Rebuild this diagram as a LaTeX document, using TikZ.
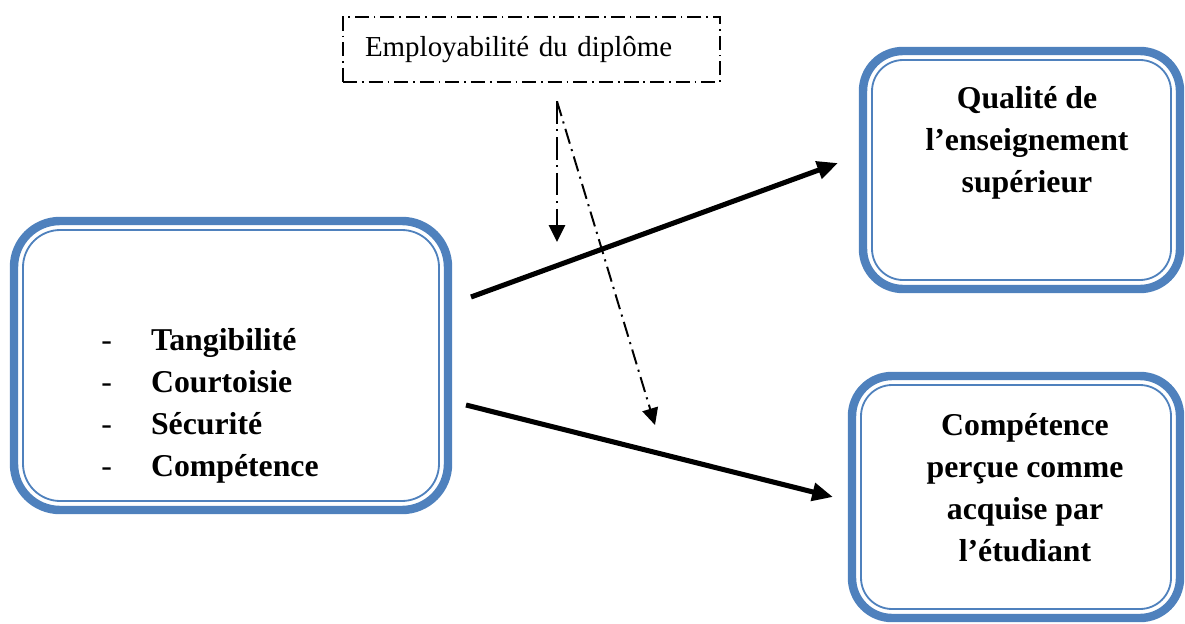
\documentclass[tikz,border=0pt]{standalone}
\usepackage{fontspec}
\setmainfont{Liberation Serif}
\usetikzlibrary{arrows.meta, positioning, calc}
\definecolor{wdblue}{HTML}{4F81BD}

\begin{document}
\begin{tikzpicture}[
  >={Triangle[length=5.2mm, width=4.4mm]},
  bluebox/.style={draw=wdblue, line width=6pt, inner sep=0pt, outer sep=0pt},
  innerline/.style={draw=wdblue, line width=1.3pt},
  boxtext/.style={font=\fontsize{22.6}{29.9}\selectfont\bfseries, align=center, inner sep=0pt},
  modbox/.style={draw, line width=1.1pt, dash pattern=on 10pt off 3.5pt on 1.2pt off 3.5pt,
    minimum height=1.625cm, inner xsep=0.55cm, text width=8.325cm, align=left,
    font=\fontsize{20.6}{24}\selectfont},
  effect/.style={->, line width=3.6pt},
  modarrow/.style={-{Triangle[length=4.2mm, width=4mm]}, line width=1.8pt},
]

\useasboundingbox (0,0) rectangle (29.625,15.575);

% Dimensions of service quality (left)
\node[bluebox, rounded corners=1.15cm, minimum width=10.85cm, minimum height=7.225cm]
  (lbox) at (5.775,6.4375) {};
\draw[innerline, rounded corners=0.93cm]
  ([shift={(0.225,0.225)}]lbox.south west) rectangle ([shift={(-0.225,-0.225)}]lbox.north east);

\node[font=\fontsize{22.6}{29.9}\selectfont\bfseries, inner sep=0pt, anchor=north west]
  (dims) at (2.525,7.56) {%
  \begin{tabular}{@{}l@{\hspace{0.98cm}}l@{}}
    {\mdseries -} & Tangibilité\\
    {\mdseries -} & Courtoisie\\
    {\mdseries -} & Sécurité\\
    {\mdseries -} & Compétence
  \end{tabular}};

% Outcomes (right)
\node[bluebox, rounded corners=1cm, minimum width=7.925cm, minimum height=5.95cm]
  (qbox) at (25.5375,11.325) {};
\draw[innerline, rounded corners=0.78cm]
  ([shift={(0.225,0.225)}]qbox.south west) rectangle ([shift={(-0.225,-0.225)}]qbox.north east);
\node[boxtext] (qtext) at (25.675,12.0) {Qualité de\\l’enseignement\\supérieur};

\node[bluebox, rounded corners=1cm, minimum width=8.2cm, minimum height=6.05cm]
  (cbox) at (25.4,3.15) {};
\draw[innerline, rounded corners=0.78cm]
  ([shift={(0.225,0.225)}]cbox.south west) rectangle ([shift={(-0.225,-0.225)}]cbox.north east);
\node[boxtext] (ctext) at (25.625,3.375) {Compétence\\perçue comme\\acquise par\\l’étudiant};

% Moderator
\node[modbox] (emp) at (13.2875,14.3375) {Employabilité du diplôme};

% Main effects
\draw[effect] ([shift={(0.575,1.7125)}]lbox.east) -- ([shift={(-0.625,0.175)}]qbox.west);
\draw[effect] ([shift={(0.45,-0.9875)}]lbox.east) -- ([shift={(-0.475,0)}]cbox.west);

% Moderating effect (dash dot)
\coordinate (empfoot) at ([shift={(0.6375,-0.4625)}]emp.south);
\coordinate (vtip) at (13.925,9.525);
\coordinate (dtip) at (16.375,4.95);
\draw[modarrow, dash pattern=on 16pt off 4pt on 1.5pt off 4pt] (empfoot) -- (vtip);
\draw[modarrow, line width=1.4pt, dash pattern=on 11pt off 4pt on 1.5pt off 4pt] (empfoot) -- (dtip);

\end{tikzpicture}
\end{document}
